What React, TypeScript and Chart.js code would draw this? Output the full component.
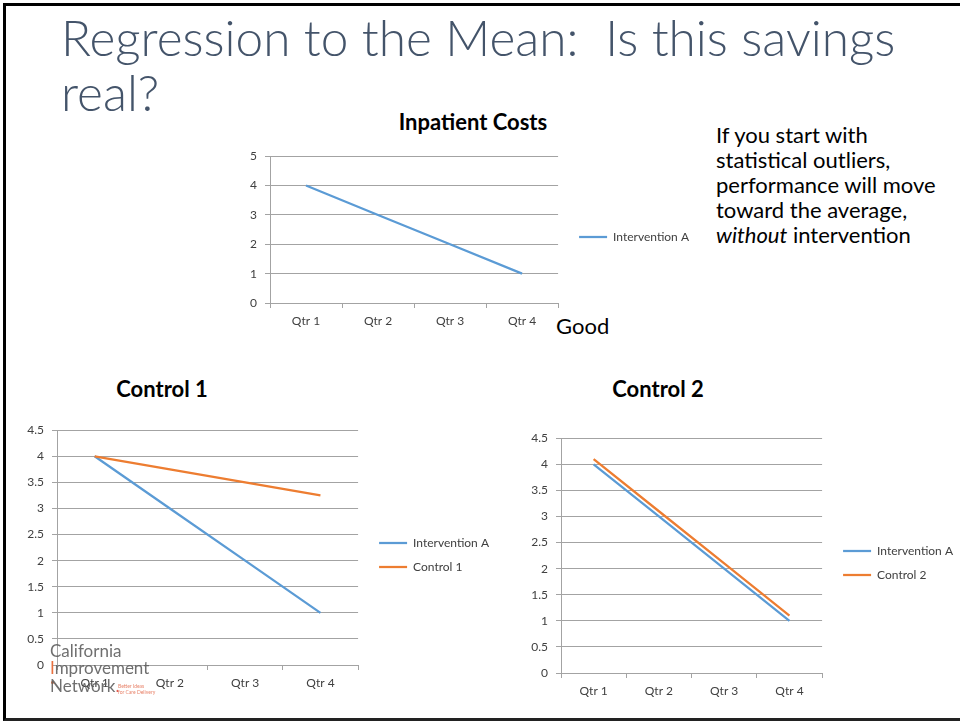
import React, { useEffect, useRef } from 'react';
import { Chart, registerables } from 'chart.js';

Chart.register(...registerables);
Chart.defaults.font.family = 'Lato';

// ---------- data ----------
const quarters = ['Qtr 1', 'Qtr 2', 'Qtr 3', 'Qtr 4'];
const interventionA = [4, 3, 2, 1];
const control1 = [4, 3.75, 3.5, 3.25];
const control2 = [4.1, 3.1, 2.1, 1.1];

const inpatientScale = [0, 5, 1]; // min, max, step
const controlScale = [0, 4.5, 0.5];

const headlineLines = ['Regression to the Mean:  Is this savings', 'real?'];
const noteLines = ['If you start with', 'statistical outliers,', 'performance will move', 'toward the average,'];

const BLUE = '#5B9BD5';
const ORANGE = '#ED7D31';
const GRID = '#a3a3a3';
const TEXT = '#404040';
const FONT_SIZE = 12;
const LEGEND_PAD = 12;
const LEGEND_LINE = 28;

type Series = { label: string; data: number[]; color: string };

type Box = {
  left: number; top: number; height: number; plotRight: number;
  yAxisW: number; xAxisH: number; topGap: number; gap: number;
};

function measure(texts: string[]): number {
  const c = document.createElement('canvas').getContext('2d');
  if (!c) return 80;
  c.font = `normal ${FONT_SIZE}px Lato`;
  return Math.max(...texts.map((t) => c.measureText(t).width));
}

function LineChart({ series, scale, box }: { series: Series[]; scale: number[]; box: Box }) {
  const ref = useRef<HTMLCanvasElement | null>(null);
  const legendW = LEGEND_PAD + LEGEND_LINE + FONT_SIZE / 2 + measure(series.map((s) => s.label)) + 10;
  const width = Math.round(box.plotRight - box.left + box.gap + legendW);
  useEffect(() => {
    if (!ref.current) return;
    const n = series.length;
    const font = { family: 'Lato', size: FONT_SIZE };
    const chart = new Chart(ref.current, {
      type: 'line',
      data: {
        labels: quarters,
        datasets: series.map((s, i) => ({
          label: s.label,
          data: s.data,
          borderColor: s.color,
          backgroundColor: s.color,
          pointBorderColor: s.color,
          pointBackgroundColor: s.color,
          borderWidth: 2.25,
          pointBorderWidth: 2.25,
          pointRadius: 0,
          pointHoverRadius: 0,
          tension: 0,
          fill: false,
          order: n - i,
        })),
      },
      options: {
        responsive: false,
        animation: false,
        devicePixelRatio: 1,
        layout: { padding: 0 },
        plugins: {
          title: { display: false },
          tooltip: { enabled: false },
          legend: {
            display: true,
            position: 'right',
            maxWidth: 400,
            labels: {
              usePointStyle: true,
              pointStyle: 'line',
              pointStyleWidth: LEGEND_LINE,
              padding: LEGEND_PAD,
              color: TEXT,
              font,
              sort: (a: any, b: any) => a.datasetIndex - b.datasetIndex,
            },
          },
        },
        scales: {
          x: {
            offset: true,
            grid: { display: true, drawOnChartArea: false, drawTicks: true, tickLength: 5, offset: true, color: GRID },
            border: { display: true, color: GRID },
            ticks: { color: TEXT, font, padding: 6, maxRotation: 0, autoSkip: false },
            afterFit: (s: any) => { s.height = box.xAxisH; },
          },
          y: {
            min: scale[0],
            max: scale[1],
            ticks: { stepSize: scale[2], padding: 8, color: TEXT, font, callback: (v: any) => String(v) },
            grid: { color: GRID, tickLength: 5, drawTicks: true },
            border: { display: true, color: GRID },
            afterFit: (s: any) => { s.width = box.yAxisW; },
          },
          gapRight: {
            type: 'linear',
            position: 'right',
            display: true,
            ticks: { display: false },
            grid: { display: false },
            border: { display: false },
            afterFit: (s: any) => { s.width = box.gap; },
          },
          gapTop: {
            type: 'linear',
            position: 'top',
            display: true,
            ticks: { display: false },
            grid: { display: false },
            border: { display: false },
            afterFit: (s: any) => { s.height = box.topGap; },
          },
        },
      } as any,
    });
    return () => chart.destroy();
  }, []);
  return (
    <canvas
      ref={ref}
      width={width}
      height={box.height}
      style={{ position: 'absolute', left: box.left, top: box.top, width, height: box.height }}
    />
  );
}

const abs = (o: React.CSSProperties): React.CSSProperties => ({ position: 'absolute', whiteSpace: 'pre', ...o });
const titleStyle = (left: number, top: number) =>
  abs({ left, top, width: 240, textAlign: 'center', fontSize: 22, fontWeight: 700, lineHeight: '22px', color: '#000' });
const logoGray = 'rgba(95,95,95,0.9)';

export default function App() {
  return (
    <div style={{ position: 'fixed', left: 0, top: 0, width: 960, height: 721, background: '#fff', overflow: 'hidden', fontFamily: 'Lato' }}>
      <div style={abs({ left: 3, top: 3, width: 980, height: 718, borderTop: '3px solid #000', borderLeft: '3px solid #000', borderBottom: '3px solid #222', boxSizing: 'border-box' })} />

      {headlineLines.map((t, i) => (
        <div key={i} style={abs({ left: 61, top: 10 + i * 55, fontSize: 49.5, fontWeight: 300, lineHeight: '55px', color: '#44546A' })}>{t}</div>
      ))}

      <div style={abs({ left: 716, top: 122, fontSize: 22, lineHeight: '25px', color: '#000' })}>
        {noteLines.map((t, i) => <div key={i}>{t}</div>)}
        <div><i>without</i> intervention</div>
      </div>

      <div style={abs({ left: 556, top: 315, fontSize: 22, lineHeight: '22px', color: '#000' })}>Good</div>

      <div style={titleStyle(353, 111)}>Inpatient Costs</div>
      <div style={titleStyle(42, 378)}>Control 1</div>
      <div style={titleStyle(538, 378)}>Control 2</div>

      <LineChart
        series={[{ label: 'Intervention A', data: interventionA, color: BLUE }]}
        scale={inpatientScale}
        box={{ left: 250, top: 141, height: 192, plotRight: 558, yAxisW: 20, xAxisH: 30, topGap: 12, gap: 9 }}
      />
      <LineChart
        series={[
          { label: 'Intervention A', data: interventionA, color: BLUE },
          { label: 'Control 1', data: control1, color: ORANGE },
        ]}
        scale={controlScale}
        box={{ left: 20, top: 415, height: 280, plotRight: 358, yAxisW: 37, xAxisH: 30, topGap: 10, gap: 9 }}
      />
      <LineChart
        series={[
          { label: 'Intervention A', data: interventionA, color: BLUE },
          { label: 'Control 2', data: control2, color: ORANGE },
        ]}
        scale={controlScale}
        box={{ left: 515, top: 423, height: 280, plotRight: 822, yAxisW: 46, xAxisH: 30, topGap: 11, gap: 9 }}
      />

      <div style={abs({ left: 50, top: 641, fontSize: 17, lineHeight: '20px', color: logoGray })}>California</div>
      <div style={abs({ left: 50, top: 658, fontSize: 17, lineHeight: '20px', color: logoGray })}>
        <span style={{ color: '#E9703F' }}>I</span>mprovement
      </div>
      <div style={abs({ left: 51, top: 681, width: 3, height: 3, background: '#E9703F', borderRadius: 2 })} />
      <div style={abs({ left: 50, top: 676, fontSize: 17, lineHeight: '20px', color: logoGray })}>
        Network<span style={{ color: '#E05A4E' }}>.</span>
      </div>
      <div style={abs({ left: 118, top: 683, fontSize: 5, lineHeight: '6px', color: '#E8836A' })}>
        <div>Better Ideas</div>
        <div>for Care Delivery</div>
      </div>
    </div>
  );
}
